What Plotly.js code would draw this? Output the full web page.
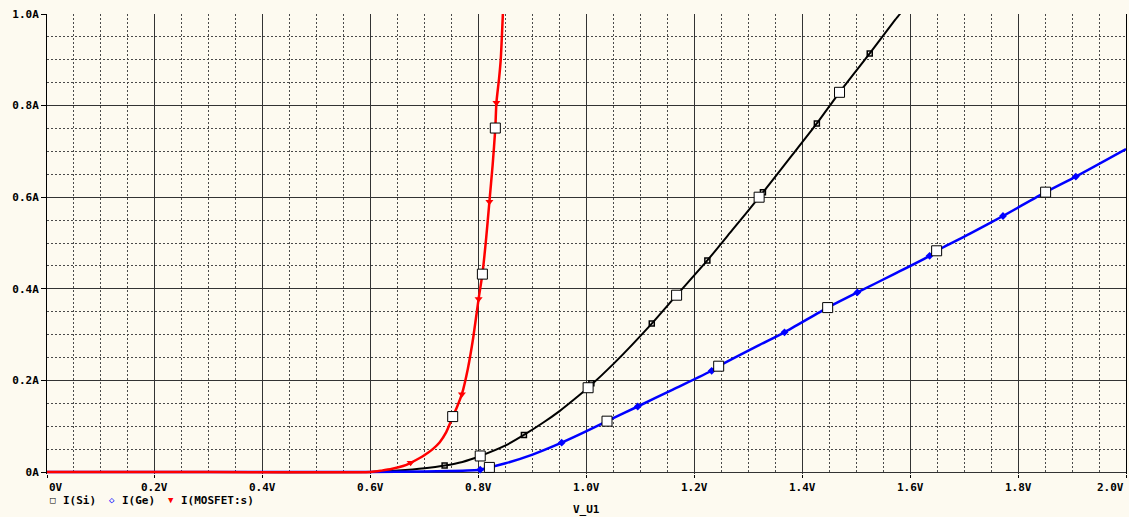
<!DOCTYPE html>
<html>
<head>
<meta charset="utf-8">
<script src="https://cdn.plot.ly/plotly-3.0.1.min.js"></script>
<style>
  html, body { margin: 0; padding: 0; background: #fdfaf0; }
  #chart { width: 1129px; height: 517px; }
</style>
</head>
<body>
<div id="chart"></div>
<script>
// ---- Data ----
// I(Si) trace
const siV = [0, 0.30, 0.60, 0.65, 0.70, 0.737, 0.77, 0.803, 0.85, 0.884, 0.92, 0.95, 0.987, 1.003, 1.05, 1.121, 1.167, 1.224, 1.270, 1.320, 1.380, 1.427, 1.469, 1.525, 1.572, 1.581, 1.60];
const siA = [0, 0, 0, 0.003, 0.008, 0.014, 0.022, 0.035, 0.058, 0.081, 0.108, 0.133, 0.168, 0.184, 0.236, 0.324, 0.386, 0.462, 0.528, 0.600, 0.690, 0.761, 0.829, 0.914, 0.987, 1.0, 1.03];
// I(Ge) trace
const geV = [0, 0.30, 0.60, 0.70, 0.746, 0.803, 0.820, 0.85, 0.90, 0.954, 1.00, 1.038, 1.095, 1.160, 1.232, 1.245, 1.320, 1.367, 1.447, 1.502, 1.570, 1.636, 1.649, 1.710, 1.772, 1.851, 1.907, 2.0];
const geA = [0, 0, 0, 0.001, 0.002, 0.005, 0.010, 0.019, 0.038, 0.064, 0.089, 0.111, 0.143, 0.180, 0.221, 0.231, 0.277, 0.305, 0.359, 0.392, 0.432, 0.472, 0.483, 0.520, 0.559, 0.611, 0.645, 0.705];
// I(MOSFET:s) trace
const mosV = [0, 0.30, 0.60, 0.62, 0.64, 0.66, 0.674, 0.69, 0.70, 0.715, 0.728, 0.74, 0.752, 0.76, 0.769, 0.78, 0.79, 0.80, 0.807, 0.814, 0.820, 0.826, 0.831, 0.833, 0.838, 0.841, 0.845];
const mosA = [0, 0, 0, 0.003, 0.007, 0.013, 0.020, 0.030, 0.037, 0.050, 0.065, 0.087, 0.120, 0.142, 0.170, 0.225, 0.293, 0.378, 0.432, 0.510, 0.590, 0.670, 0.751, 0.806, 0.860, 0.900, 1.0];

// Trace symbols placed along each curve
const siMarkV = [0.737, 0.884, 1.009, 1.121, 1.224, 1.327, 1.427, 1.525];
const siMarkA = [0.014, 0.081, 0.194, 0.324, 0.462, 0.611, 0.761, 0.914];
const geMarkV = [0.803, 0.954, 1.095, 1.232, 1.367, 1.502, 1.636, 1.772, 1.907];
const geMarkA = [0.005, 0.064, 0.143, 0.221, 0.305, 0.392, 0.472, 0.559, 0.645];
const mosMarkV = [0.674, 0.769, 0.800, 0.820, 0.833];
const mosMarkA = [0.020, 0.170, 0.378, 0.590, 0.806];

// Large open data squares
const boxV = [0.752, 0.807, 0.831, 0.803, 1.003, 1.167, 1.320, 1.469, 0.820, 1.038, 1.245, 1.447, 1.649, 1.851];
const boxA = [0.121, 0.432, 0.751, 0.035, 0.184, 0.386, 0.600, 0.829, 0.010, 0.111, 0.231, 0.359, 0.483, 0.611];

// Tick labels
const xTickVals = [0, 0.2, 0.4, 0.6, 0.8, 1.0, 1.2, 1.4, 1.6, 1.8, 2.0];
const xTickText = ["0V", "0.2V", "0.4V", "0.6V", "0.8V", "1.0V", "1.2V", "1.4V", "1.6V", "1.8V", "2.0V"];
const yTickVals = [0, 0.2, 0.4, 0.6, 0.8, 1.0];
const yTickText = ["0A", "0.2A", "0.4A", "0.6A", "0.8A", "1.0A"];

const seriesNames = ["I(Si)", "I(Ge)", "I(MOSFET:s)"];
const seriesSymbols = ["\u25A1", "\u25C7", "\u25BC"];
const seriesColors = ["#000000", "#0000ff", "#ff0000"];
const xTitle = "V_U1";

// ---- Chart ----
const FONT = "DejaVu Sans Mono, Liberation Mono, monospace";
const BG = "#fdfaf0";
const b = s => "<b>" + s + "</b>";

const traces = [
  { x: siV, y: siA, mode: "lines", line: { color: seriesColors[0], width: 2, shape: "spline", smoothing: 0.6 }, showlegend: false, hoverinfo: "skip" },
  { x: geV, y: geA, mode: "lines", line: { color: seriesColors[1], width: 2.5, shape: "spline", smoothing: 0.6 }, showlegend: false, hoverinfo: "skip" },
  { x: mosV, y: mosA, mode: "lines", line: { color: seriesColors[2], width: 2.5, shape: "spline", smoothing: 0.6 }, showlegend: false, hoverinfo: "skip" },
  { x: siMarkV, y: siMarkA, mode: "markers", marker: { symbol: "square-open", size: 5, color: seriesColors[0], line: { width: 1.5, color: seriesColors[0] } }, showlegend: false },
  { x: geMarkV, y: geMarkA, mode: "markers", marker: { symbol: "diamond", size: 6, color: seriesColors[1] }, showlegend: false },
  { x: mosMarkV, y: mosMarkA, mode: "markers", marker: { symbol: "triangle-down", size: 7, color: seriesColors[2] }, showlegend: false },
  { x: boxV, y: boxA, mode: "markers", marker: { symbol: "square", size: 10, color: "#ffffff", line: { width: 1, color: "#000000" } }, showlegend: false }
];

const annotations = [];
// x tick labels (first left-aligned, last right-aligned, like the original)
xTickVals.forEach((v, i) => {
  let anchor = "center";
  if (i === 0) anchor = "left";
  if (i === xTickVals.length - 1) anchor = "right";
  annotations.push({
    x: v, xref: "x", y: 0, yref: "paper", yanchor: "top", xanchor: anchor,
    yshift: -5, text: b(xTickText[i]), showarrow: false,
    font: { family: FONT, size: 11, color: "#000" }
  });
});
// legend row
const legendX = [48, 61, 107, 120, 166, 179];
const legendItems = [];
seriesNames.forEach((n, i) => {
  legendItems.push({ t: seriesSymbols[i], c: seriesColors[i], s: 9 });
  legendItems.push({ t: b(n), c: "#000", s: 11 });
});
legendItems.forEach((it, k) => {
  annotations.push({
    x: (legendX[k] - 47) / 1079, xref: "paper", y: 0, yref: "paper",
    xanchor: "left", yanchor: "middle", yshift: -26, text: it.t, showarrow: false,
    font: { family: FONT, size: it.s, color: it.c }
  });
});
// x axis title
annotations.push({
  x: 0.5, xref: "paper", y: 0, yref: "paper", xanchor: "center", yanchor: "middle",
  yshift: -35, text: b(xTitle), showarrow: false,
  font: { family: FONT, size: 11, color: "#000" }
});

const layout = {
  width: 1129, height: 517,
  margin: { l: 47, r: 3, t: 14, b: 43 },
  paper_bgcolor: BG, plot_bgcolor: BG,
  showlegend: false,
  font: { family: FONT, size: 11, color: "#000" },
  xaxis: {
    range: [0, 2], tickvals: xTickVals, showticklabels: false,
    ticks: "outside", ticklen: 3, tickcolor: "#000",
    showgrid: true, gridcolor: "#333333", gridwidth: 1,
    zeroline: false, showline: false,
    minor: { dtick: 0.05, tick0: 0, showgrid: true, gridcolor: "#4a4a4a", griddash: "2px,2px", gridwidth: 1, ticks: "" },
    fixedrange: true
  },
  yaxis: {
    range: [-0.00437, 1], tickvals: yTickVals, ticktext: yTickText.map(b),
    ticks: "outside", ticklen: 5, tickcolor: "#000",
    tickfont: { family: FONT, size: 11, color: "#000" },
    showgrid: true, gridcolor: "#333333", gridwidth: 1,
    zeroline: false, showline: true, linecolor: "#000", linewidth: 1, mirror: true,
    minor: { dtick: 0.05, tick0: 0, showgrid: true, gridcolor: "#4a4a4a", griddash: "2px,2px", gridwidth: 1, ticks: "" },
    fixedrange: true
  },
  annotations: annotations
};

Plotly.newPlot("chart", traces, layout, { staticPlot: true, displayModeBar: false });
</script>
</body>
</html>
